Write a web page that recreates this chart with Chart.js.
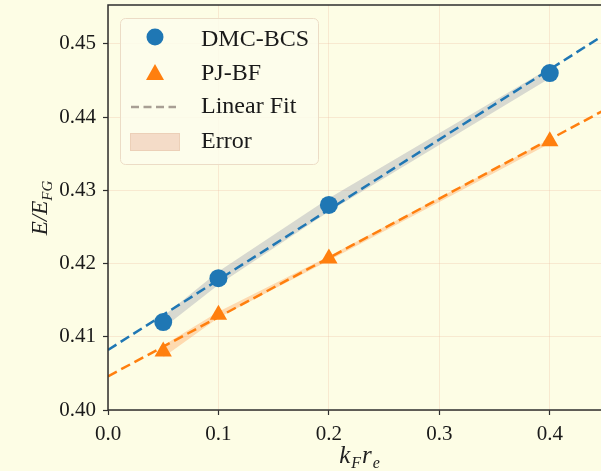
<!DOCTYPE html>
<html>
<head>
<meta charset="utf-8">
<script src="https://cdn.jsdelivr.net/npm/chart.js@4.4.0/dist/chart.umd.min.js"></script>
<style>
  html, body { margin: 0; padding: 0; background: #fdfde5; overflow: hidden; }
  #wrap { width: 610px; height: 471px; position: relative; }
</style>
</head>
<body>
<div id="wrap"><canvas id="chart"></canvas></div>
<script>
// values
const kfre = [0.05, 0.1, 0.2, 0.4];
const dmcBcs = [0.4120, 0.4180, 0.4280, 0.4460];
const dmcErr = [0.0008, 0.0009, 0.0009, 0.0007];
const pjBf = [0.4080, 0.4130, 0.4207, 0.4367];
const pjErr = [0.0008, 0.0004, 0.0003, 0.0003];

// linear fit end points (x = 0 and x = 0.45)
const fitX = [0, 0.45];
const dmcFit = [0.4082, 0.4513];
const pjFit = [0.4046, 0.4410];

const xTicks = [0.0, 0.1, 0.2, 0.3, 0.4];
const xTickLabels = ['0.0', '0.1', '0.2', '0.3', '0.4'];
const yTicks = [0.40, 0.41, 0.42, 0.43, 0.44, 0.45];
const yTickLabels = ['0.40', '0.41', '0.42', '0.43', '0.44', '0.45'];

const BLUE = '#1f77b4';
const ORANGE = '#ff7f0e';
const SERIF = '"Liberation Serif", "DejaVu Serif", serif';

function pts(xs, ys, off) {
  return xs.map((x, i) => ({ x: x, y: ys[i] + (off ? off[i] : 0) }));
}
function neg(a) { return a.map(v => -v); }

// draws frame, axis titles (with subscripts) and the legend box
const decor = {
  id: 'decor',
  afterDraw(chart) {
    const ctx = chart.ctx;
    const a = chart.chartArea;
    ctx.save();
    ctx.strokeStyle = '#2e2e2e';
    ctx.lineWidth = 1.5;
    ctx.strokeRect(a.left, a.top, a.right - a.left, a.bottom - a.top);

    // x title: k_F r_e
    ctx.fillStyle = '#222';
    ctx.textBaseline = 'alphabetic';
    const big = 'italic 25px ' + SERIF;
    const small = 'italic 16px ' + SERIF;
    const xparts = [['k', big, 0], ['F', small, 5], ['r', big, 0], ['e', small, 5]];
    let w = 0;
    xparts.forEach(p => { ctx.font = p[1]; w += ctx.measureText(p[0]).width + 1; });
    let cx = 360 - w / 2;
    xparts.forEach(p => {
      ctx.font = p[1];
      ctx.fillText(p[0], cx, 463 + p[2]);
      cx += ctx.measureText(p[0]).width + 1;
    });

    // y title: E/E_FG rotated
    ctx.translate(47, 208);
    ctx.rotate(-Math.PI / 2);
    const ybig = 'italic 23px ' + SERIF;
    const ysmall = 'italic 15px ' + SERIF;
    const yparts = [['E/E', ybig, 0], ['FG', ysmall, 5]];
    w = 0;
    yparts.forEach(p => { ctx.font = p[1]; w += ctx.measureText(p[0]).width; });
    cx = -w / 2;
    yparts.forEach(p => {
      ctx.font = p[1];
      ctx.fillText(p[0], cx, p[2]);
      cx += ctx.measureText(p[0]).width;
    });
    ctx.restore();

    // legend
    ctx.save();
    ctx.beginPath();
    ctx.roundRect(120.5, 18.5, 198, 146, 5);
    ctx.fillStyle = 'rgba(253,253,236,0.85)';
    ctx.fill();
    ctx.strokeStyle = '#ecdcc6';
    ctx.lineWidth = 1;
    ctx.stroke();

    ctx.fillStyle = BLUE;
    ctx.beginPath();
    ctx.arc(155, 37, 8.5, 0, Math.PI * 2);
    ctx.fill();

    ctx.fillStyle = ORANGE;
    ctx.beginPath();
    ctx.moveTo(155, 64);
    ctx.lineTo(164, 80);
    ctx.lineTo(146, 80);
    ctx.closePath();
    ctx.fill();

    ctx.strokeStyle = '#a89f94';
    ctx.lineWidth = 2.5;
    ctx.setLineDash([8, 4.5]);
    ctx.beginPath();
    ctx.moveTo(131, 107);
    ctx.lineTo(176, 107);
    ctx.stroke();
    ctx.setLineDash([]);

    ctx.fillStyle = '#f4dcc8';
    ctx.fillRect(130, 133, 50, 18);
    ctx.strokeStyle = '#ecd0b8';
    ctx.lineWidth = 1;
    ctx.strokeRect(130.5, 133.5, 49, 17);

    ctx.fillStyle = '#1a1a1a';
    ctx.font = '24px ' + SERIF;
    ctx.textBaseline = 'middle';
    ctx.fillText('DMC-BCS', 201, 40);
    ctx.fillText('PJ-BF', 201, 74);
    ctx.fillText('Linear Fit', 201, 107);
    ctx.fillText('Error', 201, 142);
    ctx.restore();
  }
};

new Chart(document.getElementById('chart'), {
  type: 'line',
  data: {
    datasets: [
      {
        data: pts(kfre, dmcBcs), showLine: false, pointStyle: 'circle',
        pointRadius: 9, pointHoverRadius: 9, backgroundColor: BLUE, borderColor: BLUE, borderWidth: 0
      },
      {
        data: pts(kfre, pjBf), showLine: false, pointStyle: 'triangle',
        pointRadius: 10, pointHoverRadius: 10, backgroundColor: ORANGE, borderColor: ORANGE, borderWidth: 0
      },
      {
        data: pts(fitX, dmcFit), borderColor: BLUE, borderWidth: 2.5, borderDash: [10, 5],
        pointRadius: 0, fill: false
      },
      {
        data: pts(fitX, pjFit), borderColor: ORANGE, borderWidth: 2.5, borderDash: [10, 5],
        pointRadius: 0, fill: false
      },
      {
        data: pts(kfre, dmcBcs, neg(dmcErr)), borderWidth: 0, pointRadius: 0, fill: false
      },
      {
        data: pts(kfre, dmcBcs, dmcErr), borderWidth: 0, pointRadius: 0,
        fill: '-1', backgroundColor: 'rgba(165,168,178,0.42)'
      },
      {
        data: pts(kfre, pjBf, neg(pjErr)), borderWidth: 0, pointRadius: 0, fill: false
      },
      {
        data: pts(kfre, pjBf, pjErr), borderWidth: 0, pointRadius: 0,
        fill: '-1', backgroundColor: 'rgba(255,160,90,0.38)'
      }
    ]
  },
  options: {
    responsive: true,
    maintainAspectRatio: false,
    animation: false,
    layout: { autoPadding: false, padding: { left: 0, top: 5, right: 5, bottom: 0 } },
    plugins: { legend: { display: false }, tooltip: { enabled: false } },
    scales: {
      x: {
        type: 'linear', min: 0, max: 0.45,
        afterBuildTicks: s => { s.ticks = xTicks.map(v => ({ value: v })); },
        afterFit: s => { s.height = 61; s.paddingLeft = 0; s.paddingRight = 0; },
        border: { display: false },
        grid: { color: 'rgba(238,196,168,0.35)', tickLength: 5, tickColor: '#2e2e2e', tickWidth: 1.2 },
        ticks: {
          padding: 7, color: '#1a1a1a', font: { family: SERIF, size: 21 },
          maxRotation: 0, autoSkip: false,
          callback: (v, i) => xTickLabels[i]
        }
      },
      y: {
        type: 'linear', min: 0.40, max: 0.4553,
        afterBuildTicks: s => { s.ticks = yTicks.map(v => ({ value: v })); },
        afterFit: s => { s.width = 108; s.paddingTop = 0; s.paddingBottom = 0; },
        border: { display: false },
        grid: { color: 'rgba(238,196,168,0.35)', tickLength: 5, tickColor: '#2e2e2e', tickWidth: 1.2 },
        ticks: {
          padding: 7, color: '#1a1a1a', font: { family: SERIF, size: 21 },
          autoSkip: false,
          callback: (v, i) => yTickLabels[i]
        }
      }
    }
  },
  plugins: [decor]
});
</script>
</body>
</html>
